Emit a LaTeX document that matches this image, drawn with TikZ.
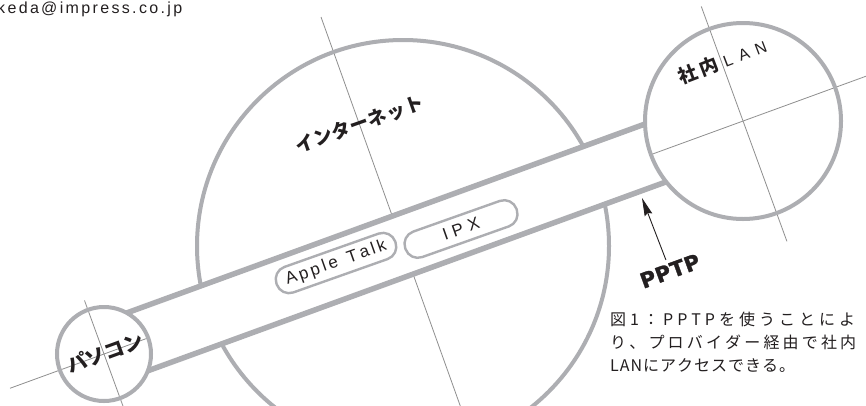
\documentclass[tikz,border=0pt]{standalone}
\usepackage{fontspec}
\setmainfont{Liberation Sans}
\newfontfamily\jp{Noto Sans CJK JP}
\newfontfamily\heavy{DejaVu Sans}[BoldFeatures={FakeBold=1.5}]
\usetikzlibrary{arrows.meta,calc}
\definecolor{ring}{HTML}{ADAEB2}
\definecolor{hair}{HTML}{8F8F8F}
\definecolor{ink}{HTML}{231F20}
\makeatletter
\def\lsp#1#2{\def\lsp@gap{#1}\lsp@a#2\lsp@end}
\def\lsp@end{LSPEND}
\def\lsp@a#1{#1\futurelet\lsp@next\lsp@b}
\def\lsp@b{\ifx\lsp@next\lsp@end\expandafter\lsp@c\else\hskip\lsp@gap\relax\expandafter\lsp@a\fi}
\def\lsp@c\lsp@end{}
\makeatother
\newcommand\spread[2]{\makebox[#1][s]{\lsp{0pt plus 1fil}{#2}}}
\begin{document}
\begin{tikzpicture}[x=1pt,y=-1pt,
  ringline/.style={draw=ring, line width=4pt},
  pipeline/.style={draw=ring, line width=5.5pt},
  hairline/.style={draw=hair, line width=0.8pt},
  pill/.style={draw=ring, line width=2.4pt, rounded corners=13pt, minimum width=126pt,
    minimum height=27pt, inner sep=0pt, text=ink, font=\fontsize{17}{17}\selectfont},
  jlabel/.style={text=ink, inner sep=0pt, font=\jp\bfseries\fontsize{19}{19}\selectfont}]
\useasboundingbox (0,0) rectangle (866,405);
\fill[white] (0,0) rectangle (866,405);
% centres
\coordinate (inet) at (403,246);
\coordinate (pc) at (104,354);
\coordinate (lan) at (743,121);
\coordinate (inettop) at (321,17);
% Internet circle and its cross line
\draw[hairline] (inettop) -- ($(inet)!-1!(inettop)$);
\draw[ringline] (inet) circle[radius=206pt];
% pipe
\begin{scope}[shift={(pc)}, rotate=20.03]
  \coordinate (pu1) at (35.5,-30.8);
  \coordinate (pu2) at (587.2,-30.8);
  \coordinate (pl1) at (35.5,30.8);
  \coordinate (pl2) at (587.2,30.8);
  \fill[white] (pu1) -- (pu2) -- (pl2) -- (pl1) -- cycle;
  \draw[pipeline] (pu1) -- (pu2);
  \draw[pipeline] (pl1) -- (pl2);
  % cross lines of the small circles
  \draw[hairline] (-100,0) -- (47,0);
  \draw[hairline] (0,-57) -- (0,57);
  \draw[hairline] (582.2,0) -- (815,0);
  \draw[hairline] (680.2,-122) -- (680.2,128);
\end{scope}
\draw[ringline] (pc) circle[radius=47pt];
\draw[ringline] (lan) circle[radius=98pt];
% pills
\node[pill, rotate=19.5] (atalk) at (336,263) {\spread{106pt}{Apple~Talk}};
\node[pill, minimum width=118pt, rotate=19.5] (ipx) at (461,229) {\spread{38pt}{IPX}};
% labels
\node[jlabel, rotate=19.5] (inetlabel) at (359.5,124) {\spread{134pt}{インターネット}};
\node[jlabel, font=\jp\bfseries\fontsize{20}{20}\selectfont, rotate=20] (pclabel) at (104,353) {\spread{78pt}{パソコン}};
\node[text=ink, inner sep=0pt, rotate=21] (lanlabel) at (722,61)
  {{\jp\bfseries\fontsize{19}{19}\selectfont 社\hspace{4pt}内}\hspace{6pt}{\fontsize{16}{16}\selectfont L\hspace{7pt}A\hspace{7pt}N}};
% PPTP arrow
\node[text=ink, inner sep=1pt, rotate=20, font=\heavy\bfseries\fontsize{21}{21}\selectfont] (pptp) at (670,271) {\spread{62pt}{PPTP}};
\coordinate (pptptip) at (642,198);
\draw[ink, line width=0.9pt, shorten <=3pt, -{Stealth[length=18pt,width=8pt,inset=2pt]}] (pptp.north) -- (pptptip);
% caption
\node[anchor=base west, inner sep=0pt, text=ink, font=\jp\fontsize{16}{16}\selectfont] (cap1) at (610,325) {\spread{245pt}{図1：PPTPを使うことによ}};
\node[anchor=base west, inner sep=0pt, text=ink, font=\jp\fontsize{16}{16}\selectfont] (cap2) at (610,348) {\spread{246pt}{り、プロバイダー経由で社内}};
\node[anchor=base west, inner sep=0pt, text=ink, font=\jp\fontsize{16}{16}\selectfont] (cap3) at (610,371) {\lsp{1pt}{LANにアクセスできる。}};
% e-mail
\node[anchor=base west, inner sep=0pt, text=ink, font=\fontsize{16}{16}\selectfont] (mail) at (-3,13) {\spread{185pt}{keda@impress.co.jp}};
\end{tikzpicture}
\end{document}
